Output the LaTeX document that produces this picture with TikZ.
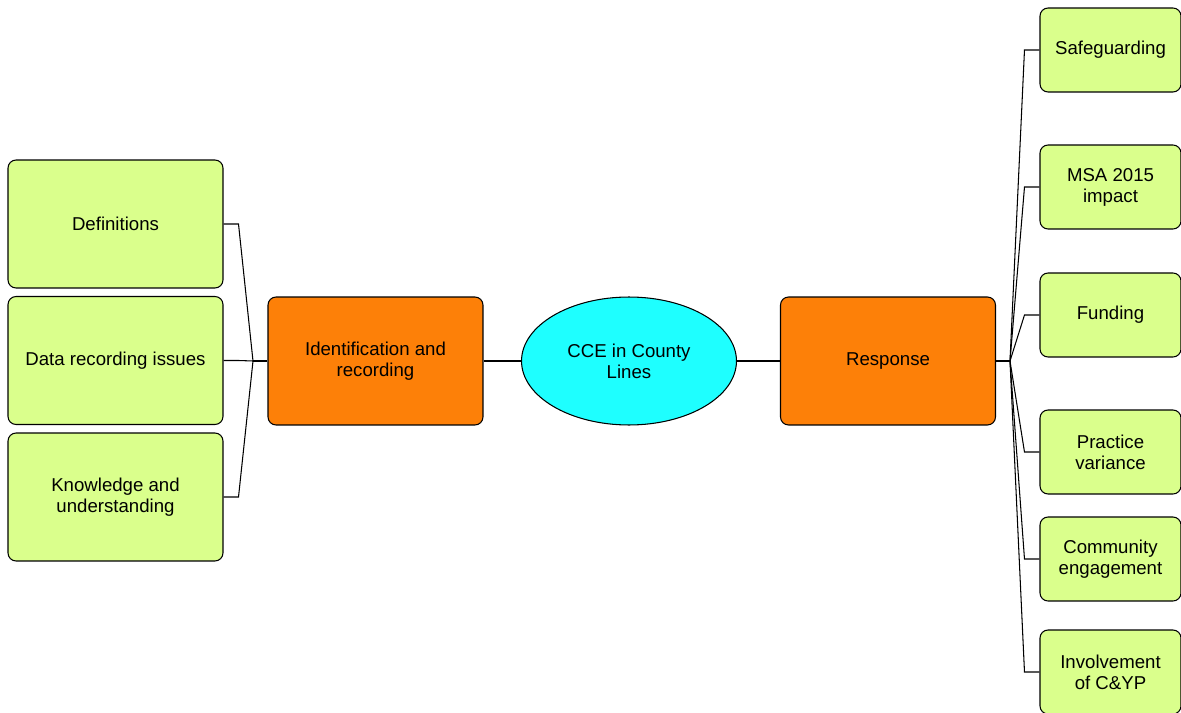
\documentclass[tikz,border=0pt]{standalone}
\usepackage{fontspec}
\setmainfont{Liberation Sans}
\usetikzlibrary{shapes.geometric}
\definecolor{leafgreen}{RGB}{218,255,140}
\definecolor{branchorange}{RGB}{253,128,8}
\definecolor{hubcyan}{RGB}{30,255,255}
\begin{document}
\begin{tikzpicture}
[x=0.02cm,y=-0.02cm,%
  lineDecorate/.style={-,line width=0.6pt},%
  leafDecorate/.style={draw,line width=0.6pt,fill=leafgreen,rounded corners=0.16cm,
    align=center,font=\fontsize{10.6}{12}\selectfont},
  bigleaf/.style={leafDecorate,minimum width=4.3cm,minimum height=2.56cm},
  smallleaf/.style={leafDecorate,minimum width=2.82cm,minimum height=1.68cm},
  branchDecorate/.style={bigleaf,fill=branchorange},
  hubDecorate/.style={shape=ellipse,draw,line width=0.6pt,fill=hubcyan,
    minimum width=4.3cm,minimum height=2.56cm,align=center,font=\fontsize{10.6}{12}\selectfont}]
\useasboundingbox (0,0) rectangle (1181,713);
%% centre and branches
\node (cce) at (629,361) [hubDecorate] {CCE in County\\Lines};
\node (ident) at (375.5,361) [branchDecorate] {Identification and\\recording};
\node (resp) at (888,361) [branchDecorate] {Response};
\coordinate (jl) at (253,361);
\coordinate (jr) at (1010,361);
%% left leaves
\foreach \nodename/\nodelabel/\y in {
  defn/Definitions/224, datarec/Data recording issues/360.5,
  knowl/{Knowledge and\\understanding}/497}
{
  \node (\nodename) at (115.5,\y) [bigleaf] {\nodelabel};
  \draw[lineDecorate] (\nodename.east) -- ++(15,0) -- (jl);
}
%% right leaves
\foreach \nodename/\nodelabel/\y in {
  safeg/Safeguarding/50, msa/{MSA 2015\\impact}/187, fund/Funding/315,
  pract/{Practice\\variance}/452, comm/{Community\\engagement}/559,
  invol/{Involvement\\of C\&YP}/672}
{
  \node (\nodename) at (1110.5,\y) [smallleaf] {\nodelabel};
  \draw[lineDecorate] (\nodename.west) -- ++(-15,0) -- (jr);
}
%% links
\draw[lineDecorate] (jl) -- (ident.west);
\draw[lineDecorate] (ident.east) -- ++(14,0) -- (cce.west);
\draw[lineDecorate] (cce.east) -- (resp.west);
\draw[lineDecorate] (resp.east) -- (jr);
\end{tikzpicture}
\end{document}
